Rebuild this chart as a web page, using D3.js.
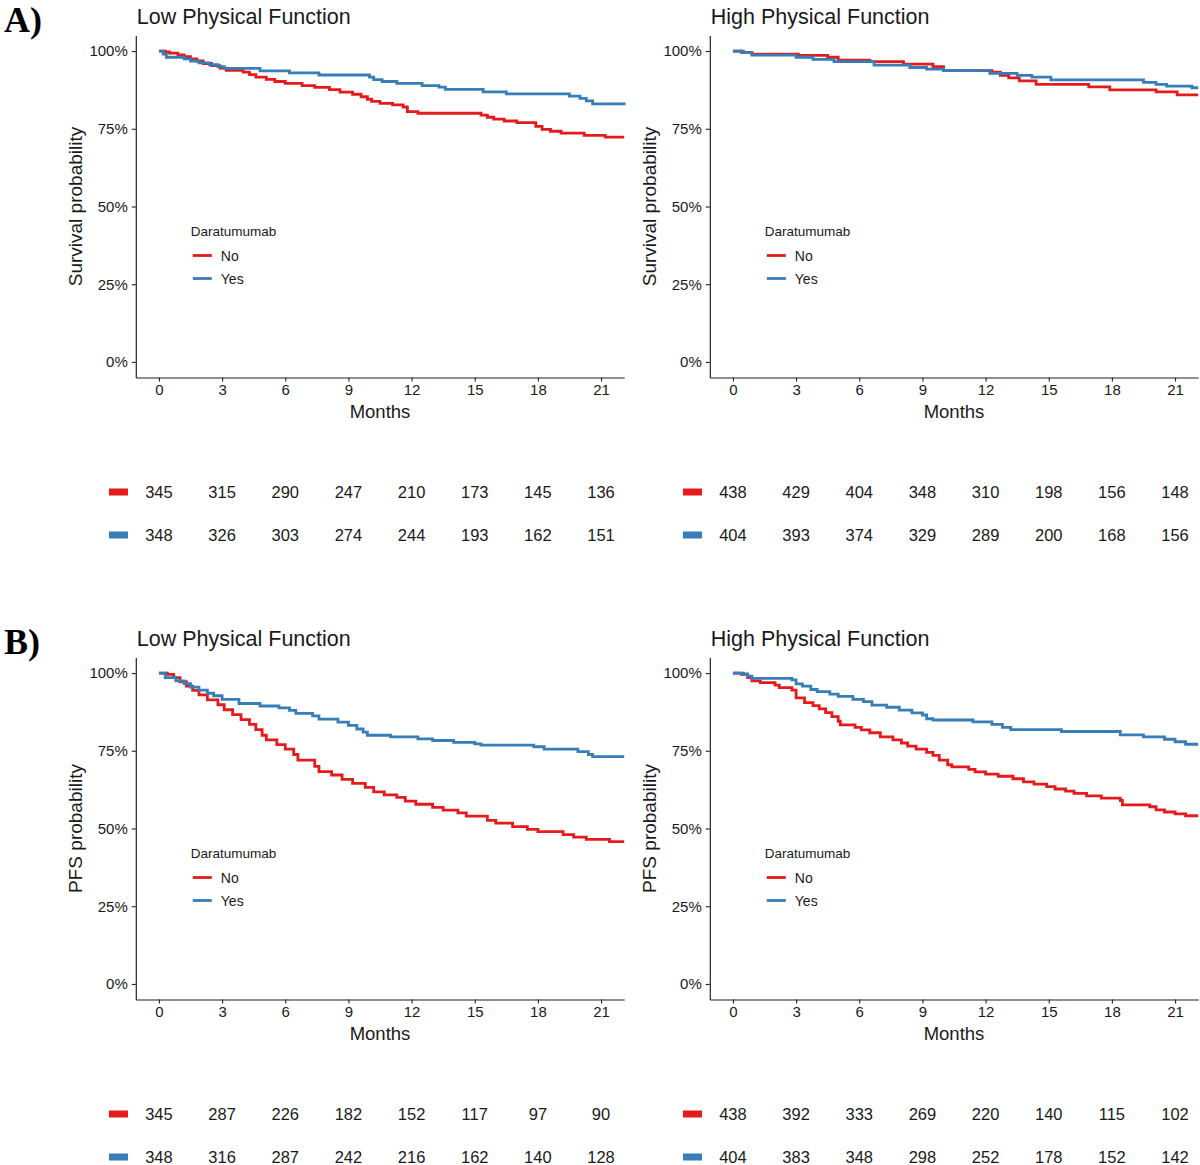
<!DOCTYPE html>
<html><head><meta charset="utf-8">
<script src="https://cdn.jsdelivr.net/npm/d3@7"></script>
<style>
html,body{margin:0;padding:0;background:#fff;}
svg{display:block;font-family:"Liberation Sans",Arial,sans-serif;}
</style></head>
<body>
<svg id="chart" width="1200" height="1165"></svg>
<script>
// ---------- data ----------
const monthTicks = [0, 3, 6, 9, 12, 15, 18, 21];
const probTicks = [0, 0.25, 0.5, 0.75, 1];
const groups = ["No", "Yes"];
const legendTitle = "Daratumumab";
const panelTitles = ["Low Physical Function", "High Physical Function"];
const rowLabels = ["A)", "B)"];
const yTitles = ["Survival probability", "PFS probability"];

// Kaplan-Meier step points [month, probability]
const osLowNo = [[0,1],[0.3,0.997],[0.5,0.993],[0.9,0.988],[1.2,0.982],[1.5,0.975],[1.8,0.968],[2.1,0.96],[2.5,0.953],[2.9,0.945],[3.2,0.938],[4.0,0.932],[4.3,0.924],[4.6,0.916],[5.1,0.909],[5.5,0.902],[6.0,0.896],[6.8,0.889],[7.4,0.883],[8.1,0.876],[8.6,0.868],[9.2,0.861],[9.6,0.853],[9.9,0.845],[10.1,0.838],[10.5,0.832],[11.1,0.827],[11.6,0.82],[11.8,0.805],[12.3,0.8],[15.3,0.794],[15.6,0.787],[15.9,0.781],[16.4,0.775],[17.0,0.77],[17.9,0.758],[18.2,0.748],[18.6,0.742],[19.1,0.736],[20.2,0.729],[21.2,0.723],[22.1,0.723]];
const osLowYes = [[0,1],[0.2,0.99],[0.35,0.98],[1.2,0.975],[1.5,0.968],[1.9,0.962],[2.4,0.956],[2.8,0.95],[3.1,0.944],[4.8,0.936],[6.2,0.93],[7.6,0.923],[10.0,0.916],[10.2,0.908],[10.6,0.902],[11.3,0.896],[12.5,0.889],[13.3,0.884],[13.6,0.877],[15.4,0.869],[16.5,0.862],[19.5,0.855],[20.0,0.848],[20.3,0.84],[20.6,0.83],[22.1,0.826]];
const osHighNo = [[0,1],[0.4,0.996],[0.9,0.99],[3.1,0.986],[4.5,0.98],[5.0,0.971],[6.5,0.966],[8.1,0.958],[9.5,0.95],[10.0,0.937],[12.3,0.932],[12.7,0.922],[13.1,0.914],[13.6,0.904],[14.4,0.893],[16.9,0.885],[17.9,0.875],[20.1,0.869],[21.1,0.859],[22.1,0.859]];
const osHighYes = [[0,1],[0.5,0.995],[0.9,0.987],[3.0,0.98],[3.8,0.973],[4.8,0.966],[6.7,0.955],[8.4,0.947],[9.2,0.942],[10.0,0.937],[12.2,0.928],[13.5,0.922],[14.2,0.916],[15.1,0.907],[19.5,0.899],[20.1,0.893],[20.6,0.887],[21.8,0.882],[22.1,0.882]];
const pfsLowNo = [[0,1],[0.4,0.996],[0.7,0.985],[1.0,0.972],[1.3,0.958],[1.6,0.944],[1.9,0.93],[2.3,0.914],[2.8,0.898],[3.1,0.882],[3.5,0.866],[3.9,0.85],[4.3,0.835],[4.6,0.818],[4.9,0.8],[5.1,0.785],[5.6,0.77],[6.0,0.755],[6.4,0.738],[6.6,0.72],[7.4,0.7],[7.6,0.683],[8.2,0.672],[8.7,0.658],[9.2,0.645],[9.8,0.632],[10.2,0.618],[10.7,0.608],[11.3,0.6],[11.7,0.588],[12.2,0.578],[13.0,0.568],[13.5,0.559],[14.2,0.55],[14.6,0.54],[15.6,0.526],[16.0,0.517],[16.8,0.506],[17.5,0.497],[18.0,0.49],[19.2,0.48],[19.7,0.472],[20.3,0.465],[21.4,0.458],[22.1,0.458]];
const pfsLowYes = [[0,1],[0.3,0.985],[0.8,0.975],[1.2,0.966],[1.5,0.955],[1.9,0.945],[2.3,0.935],[2.6,0.927],[3.0,0.915],[3.8,0.902],[4.8,0.894],[5.7,0.888],[6.2,0.88],[6.5,0.87],[7.3,0.862],[7.6,0.852],[8.5,0.842],[9.0,0.832],[9.4,0.82],[9.7,0.81],[9.9,0.8],[11.0,0.795],[12.3,0.788],[13.0,0.783],[14.0,0.777],[15.0,0.772],[15.3,0.768],[17.8,0.763],[18.3,0.755],[19.9,0.747],[20.4,0.738],[20.6,0.731],[22.1,0.731]];
const pfsHighNo = [[0,1],[0.4,0.996],[0.7,0.985],[0.9,0.975],[1.3,0.969],[2.0,0.961],[2.2,0.953],[2.8,0.945],[3.0,0.92],[3.4,0.905],[3.8,0.895],[4.1,0.885],[4.4,0.873],[4.7,0.86],[5.0,0.845],[5.1,0.833],[5.8,0.825],[6.1,0.817],[6.5,0.808],[7.0,0.795],[7.6,0.785],[8.0,0.775],[8.3,0.765],[8.7,0.755],[9.2,0.745],[9.5,0.735],[9.8,0.72],[10.2,0.705],[10.4,0.698],[11.2,0.69],[11.5,0.682],[12.0,0.675],[12.6,0.668],[13.3,0.66],[13.8,0.65],[14.3,0.643],[14.9,0.635],[15.3,0.627],[15.8,0.62],[16.2,0.613],[16.8,0.605],[17.5,0.598],[18.4,0.59],[18.5,0.576],[19.8,0.57],[20.1,0.56],[20.5,0.553],[21.0,0.547],[21.5,0.541],[22.1,0.541]];
const pfsHighYes = [[0,1],[0.5,0.997],[0.7,0.99],[0.9,0.983],[2.8,0.978],[3.0,0.965],[3.3,0.958],[3.7,0.947],[4.0,0.94],[4.6,0.932],[5.0,0.925],[5.7,0.915],[6.2,0.908],[6.6,0.897],[7.3,0.89],[7.9,0.881],[8.5,0.872],[9.0,0.865],[9.2,0.853],[9.5,0.849],[11.4,0.843],[12.3,0.835],[12.8,0.825],[13.2,0.818],[15.6,0.812],[18.4,0.801],[19.5,0.795],[20.5,0.787],[21.0,0.779],[21.5,0.771],[22.1,0.771]];

// numbers at risk at monthTicks
const riskOsLowNo   = [345, 315, 290, 247, 210, 173, 145, 136];
const riskOsLowYes  = [348, 326, 303, 274, 244, 193, 162, 151];
const riskOsHighNo  = [438, 429, 404, 348, 310, 198, 156, 148];
const riskOsHighYes = [404, 393, 374, 329, 289, 200, 168, 156];
const riskPfsLowNo   = [345, 287, 226, 182, 152, 117, 97, 90];
const riskPfsLowYes  = [348, 316, 287, 242, 216, 162, 140, 128];
const riskPfsHighNo  = [438, 392, 333, 269, 220, 140, 115, 102];
const riskPfsHighYes = [404, 383, 348, 298, 252, 178, 152, 142];

// ---------- layout ----------
const colors = {No: "#E41A1C", Yes: "#377EB8"};
const svg = d3.select("#chart");
const ink = "#1a1a1a";

const panels = [
  {row: 0, col: 0, title: panelTitles[0], ylab: yTitles[0], no: osLowNo, yes: osLowYes, rNo: riskOsLowNo, rYes: riskOsLowYes},
  {row: 0, col: 1, title: panelTitles[1], ylab: yTitles[0], no: osHighNo, yes: osHighYes, rNo: riskOsHighNo, rYes: riskOsHighYes},
  {row: 1, col: 0, title: panelTitles[0], ylab: yTitles[1], no: pfsLowNo, yes: pfsLowYes, rNo: riskPfsLowNo, rYes: riskPfsLowYes},
  {row: 1, col: 1, title: panelTitles[1], ylab: yTitles[1], no: pfsHighNo, yes: pfsHighYes, rNo: riskPfsHighNo, rYes: riskPfsHighYes}
];

const colLeft = [135.8, 709.8];
const plotW = 488.4;
const rowTop = [35.5, 657.5];
const plotH = 342;

rowLabels.forEach((t, i) => {
  svg.append("text").attr("x", 4).attr("y", i === 0 ? 32 : 654)
    .attr("font-family", "'Liberation Serif','Times New Roman',serif")
    .attr("font-weight", "bold").attr("font-size", 36).attr("fill", "#000").text(t);
});

panels.forEach(p => {
  const xl = colLeft[p.col], yt = rowTop[p.row];
  const x = d3.scaleLinear().domain([-1.1, 22.1]).range([xl, xl + plotW]);
  const y = d3.scaleLinear().domain([-0.05, 1.05]).range([yt + plotH, yt]);
  const g = svg.append("g");

  // title
  g.append("text").attr("x", xl + 1).attr("y", yt - 12)
    .attr("font-size", 21.5).attr("fill", ink).text(p.title);

  // axes
  const ya = g.append("g").attr("transform", `translate(${xl},0)`)
    .call(d3.axisLeft(y).tickValues(probTicks).tickFormat(d3.format(".0%")).tickSize(4).tickPadding(4).tickSizeOuter(0));
  const xa = g.append("g").attr("transform", `translate(0,${yt + plotH})`)
    .call(d3.axisBottom(x).tickValues(monthTicks).tickFormat(d3.format("d")).tickSize(4).tickPadding(3).tickSizeOuter(0));
  [ya, xa].forEach(a => {
    a.select(".domain").attr("stroke", "#222").attr("stroke-width", 1.2);
    a.selectAll(".tick line").attr("stroke", "#222").attr("stroke-width", 1.1);
    a.selectAll(".tick text").attr("font-size", 15).attr("fill", ink)
      .attr("font-family", "'Liberation Sans',Arial,sans-serif");
  });

  // axis titles
  g.append("text").attr("x", x(10.5)).attr("y", yt + plotH + 40)
    .attr("text-anchor", "middle").attr("font-size", 18.5).attr("fill", ink).text("Months");
  g.append("text").attr("transform", `translate(${xl - 54},${y(0.5)}) rotate(-90)`)
    .attr("text-anchor", "middle").attr("font-size", 19).attr("fill", ink).text(p.ylab);

  // curves
  const line = d3.line().x(d => x(d[0])).y(d => y(d[1])).curve(d3.curveStepAfter);
  [["No", p.no], ["Yes", p.yes]].forEach(([k, data]) => {
    g.append("path").datum(data).attr("d", line).attr("fill", "none")
      .attr("stroke", colors[k]).attr("stroke-width", 2.8).attr("stroke-linejoin", "miter");
  });

  // legend
  const lx = xl + 55, ly = yt + 195;
  g.append("text").attr("x", lx).attr("y", ly + 5).attr("font-size", 13.5).attr("fill", ink).text(legendTitle);
  groups.forEach((k, i) => {
    const yy = ly + 25 + i * 23;
    g.append("line").attr("x1", lx + 2).attr("x2", lx + 21).attr("y1", yy).attr("y2", yy)
      .attr("stroke", colors[k]).attr("stroke-width", 2.8);
    g.append("text").attr("x", lx + 30).attr("y", yy).attr("dy", "0.36em")
      .attr("font-size", 14).attr("fill", ink).text(k);
  });

  // risk table
  const riskRows = [["No", p.rNo], ["Yes", p.rYes]];
  riskRows.forEach(([k, vals], i) => {
    const ry = (p.row === 0 ? 492 : 1114) + i * 43;
    g.append("rect").attr("x", x(0) - 50).attr("y", ry - 3.5).attr("width", 19).attr("height", 7)
      .attr("fill", colors[k]);
    g.selectAll(null).data(monthTicks).enter().append("text")
      .attr("x", d => x(d)).attr("y", ry).attr("dy", "0.36em")
      .attr("text-anchor", "middle").attr("font-size", 16.5).attr("fill", ink)
      .text((d, j) => vals[j]);
  });
});
</script>
</body></html>
